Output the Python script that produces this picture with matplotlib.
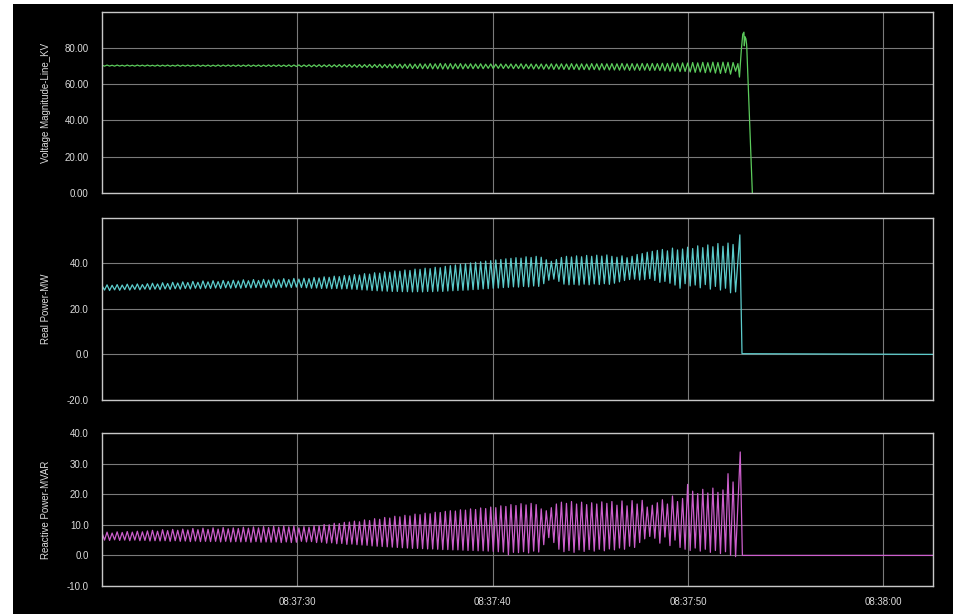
import numpy as np
import matplotlib
matplotlib.use("Agg")
import matplotlib.pyplot as plt
from matplotlib.patches import Rectangle
from matplotlib.ticker import FormatStrFormatter

plt.rcParams['font.family'] = ['Liberation Sans', 'DejaVu Sans']
plt.rcParams['axes.unicode_minus'] = False

# ---- data (seconds after 08:37:20) ----
period_s = 0.2585
x_tick_pos = [10, 20, 30, 40]
x_tick_labels = ["08:37:30", "08:37:40", "08:37:50", "08:38:00"]
x_end = 42.55

voltage_hi = [70.3, 70.4, 70.3, 70.4, 70.3, 70.4, 70.3, 70.4, 70.35, 70.4,
              70.3, 70.4, 70.35, 70.4, 70.3, 70.45, 70.35, 70.4, 70.3, 70.45, 70.35, 70.4, 70.35, 70.45, 70.4, 70.45,
              70.4, 70.45, 70.4, 70.5, 70.4, 70.45, 70.4, 70.5, 70.45, 70.5, 70.4, 70.5, 70.45,
              70.5, 70.45, 70.55, 70.5, 70.6, 70.5, 70.6, 70.55, 70.65, 70.6, 70.7,
              70.6, 70.7, 70.65, 70.75, 70.7, 70.8, 70.7, 70.85, 70.8, 70.9,
              70.9, 71.0, 70.9, 71.1, 71.0, 71.2, 71.1, 71.3, 71.2,
              71.2, 71.1, 71.2, 71.0, 71.1, 71.0, 71.1, 70.9, 71.0, 70.9,
              71.0, 70.9, 71.0, 70.9, 71.1, 70.9, 71.0, 70.9, 71.0, 70.9, 71.1, 71.0,
              71.1, 71.0, 71.2, 71.0, 71.1, 71.0, 71.2, 71.1, 71.2, 71.1,
              71.2, 71.1, 71.3, 71.1, 71.2, 71.1, 71.3, 71.2, 71.3, 71.2,
              71.4, 71.3, 71.5, 71.4, 71.6, 71.5,
              71.8, 71.6, 71.9, 71.7, 72.0, 71.8, 72.0, 71.9, 71.8]
voltage_lo = [69.8, 69.85, 69.8, 69.85, 69.8, 69.85, 69.8, 69.85, 69.8, 69.85,
              69.8, 69.75, 69.8, 69.75, 69.8, 69.75, 69.8, 69.75, 69.8, 69.7, 69.75, 69.7, 69.75, 69.7, 69.75, 69.7,
              69.7, 69.65, 69.7, 69.65, 69.7, 69.6, 69.65, 69.6, 69.65, 69.6, 69.6, 69.55, 69.6,
              69.5, 69.55, 69.45, 69.5, 69.4, 69.45, 69.35, 69.4, 69.3, 69.35, 69.2,
              69.2, 69.1, 69.15, 69.0, 69.05, 68.9, 68.95, 68.8, 68.85, 68.7,
              68.6, 68.5, 68.5, 68.4, 68.4, 68.3, 68.3, 68.2, 68.2,
              68.3, 68.4, 68.3, 68.5, 68.4, 68.5, 68.4, 68.6, 68.5, 68.6,
              68.5, 68.6, 68.4, 68.5, 68.3, 68.4, 68.2, 68.3, 68.1, 68.2, 68.0, 68.1,
              68.0, 67.9, 68.0, 67.8, 67.9, 67.8, 67.9, 67.7, 67.8, 67.7,
              67.7, 67.6, 67.7, 67.5, 67.6, 67.5, 67.6, 67.4, 67.5, 67.4,
              67.2, 67.0, 67.1, 66.8, 66.9, 66.6,
              66.4, 66.6, 66.2, 66.5, 66.0, 65.8, 66.2, 65.4, 67.0]
voltage_tail_t = [32.56, 32.64, 32.74, 32.81, 32.87, 32.89, 32.92, 32.97, 33.01, 33.30]
voltage_tail_v = [71.2, 63.8, 79.4, 87.4, 88.5, 81.0, 86.0, 84.9, 81.5, 0.0]

real_hi = [30.2, 30.5, 30.3, 30.6, 30.4, 30.8, 30.5, 30.9, 30.6, 31.0,
           31.2, 30.9, 31.4, 31.1, 31.6, 31.3, 31.8, 31.5, 32.0, 31.6, 32.2, 31.8, 32.3, 31.9, 32.4, 32.0,
           32.5, 32.2, 32.7, 32.3, 32.8, 32.4, 32.9, 32.6, 33.0, 32.7, 33.2, 32.8, 33.3,
           33.0, 33.4, 33.2, 33.7, 33.5, 34.0, 33.8, 34.3, 34.1, 34.6, 34.5,
           35.0, 34.8, 35.4, 35.2, 35.8, 35.6, 36.2, 36.0, 36.6, 36.5,
           37.0, 36.8, 37.4, 37.3, 37.8, 37.6, 38.2, 38.0, 38.6,
           38.9, 39.2, 39.5, 39.8, 40.1, 40.4, 40.6, 40.9, 41.1, 41.4,
           41.6, 41.9, 42.1, 42.4, 42.2, 42.8, 42.5, 43.0, 42.6, 41.5, 40.8, 41.6,
           42.5, 43.0, 42.7, 43.2, 42.8, 43.4, 43.0, 43.5, 43.1, 43.6,
           43.0, 42.6, 43.2, 42.4, 43.0, 43.8, 44.2, 44.8, 45.2, 45.6,
           46.0, 45.4, 46.6, 45.8, 46.2, 47.0,
           46.4, 47.6, 46.8, 48.0, 47.2, 48.6, 47.4, 48.8, 48.2]
real_lo = [28.2, 28.0, 28.3, 28.1, 28.4, 28.2, 28.5, 28.3, 28.6, 28.4,
           28.6, 28.4, 28.7, 28.5, 28.8, 28.6, 28.9, 28.7, 29.0, 28.8, 29.0, 28.9, 29.1, 28.9, 29.2, 29.0,
           29.2, 29.0, 29.3, 29.1, 29.3, 29.2, 29.4, 29.2, 29.4, 29.3, 29.5, 29.3, 29.5,
           29.3, 29.2, 29.0, 29.1, 28.9, 29.0, 28.8, 28.9, 28.7, 28.8, 28.6,
           28.5, 28.3, 28.2, 28.0, 27.9, 27.8, 27.7, 27.6, 27.6, 27.5,
           27.5, 27.4, 27.5, 27.4, 27.6, 27.5, 27.7, 27.6, 27.8,
           27.9, 28.0, 28.1, 28.2, 28.4, 28.5, 28.7, 28.8, 29.0, 29.1,
           29.3, 29.4, 29.6, 29.5, 29.8, 29.6, 30.0, 29.8, 31.0, 32.5, 33.0, 32.0,
           30.8, 30.5, 30.7, 30.4, 30.8, 30.5, 30.9, 30.6, 31.0, 30.7,
           31.2, 31.8, 32.4, 32.8, 33.0, 32.6, 32.8, 33.2, 32.4, 31.6,
           32.0, 31.2, 30.4, 29.0, 31.0, 30.0,
           30.4, 29.2, 30.6, 28.6, 29.8, 28.2, 29.0, 27.0, 27.4]
real_tail_t = [32.66, 32.77, x_end]
real_tail_v = [52.4, 0.3, 0.0]

reactive_hi = [7.4, 7.6, 7.3, 7.7, 7.5, 7.8, 7.6, 7.9, 7.7, 8.0,
               8.2, 7.9, 8.4, 8.1, 8.5, 8.2, 8.6, 8.3, 8.8, 8.4, 8.9, 8.5, 9.0, 8.6, 9.1, 8.7,
               9.0, 8.8, 9.2, 8.9, 9.3, 9.0, 9.4, 9.1, 9.5, 9.2, 9.6, 9.3, 9.6,
               9.0, 9.4, 9.2, 9.7, 9.6, 10.1, 10.0, 10.5, 10.4, 10.8, 10.9,
               11.2, 11.0, 11.6, 11.4, 12.0, 11.8, 12.4, 12.2, 12.8, 12.6,
               13.1, 12.9, 13.5, 13.3, 13.8, 13.6, 14.1, 14.0, 14.4,
               14.6, 14.5, 14.9, 14.8, 15.2, 15.0, 15.5, 15.3, 15.8, 15.6,
               16.2, 16.0, 16.6, 16.3, 16.9, 16.5, 17.0, 16.6, 15.2, 14.6, 15.6, 16.8,
               17.4, 17.0, 17.6, 16.8, 17.4, 16.6, 17.2, 16.8, 17.5, 17.0,
               17.6, 16.4, 17.8, 16.2, 17.9, 16.8, 18.0, 15.8, 16.4, 17.2,
               18.2, 16.8, 19.4, 17.6, 18.6, 23.2,
               21.0, 20.2, 21.6, 20.4, 22.0, 20.6, 21.4, 26.7, 24.0]
reactive_lo = [5.0, 4.9, 5.1, 4.9, 5.0, 4.8, 5.0, 4.8, 4.9, 4.7,
               4.8, 4.7, 4.8, 4.6, 4.8, 4.6, 4.7, 4.5, 4.7, 4.5, 4.6, 4.5, 4.6, 4.4, 4.6, 4.4,
               4.5, 4.4, 4.5, 4.3, 4.5, 4.3, 4.4, 4.3, 4.4, 4.2, 4.4, 4.2, 4.3,
               4.6, 4.4, 4.5, 4.2, 4.3, 4.0, 4.1, 3.8, 3.9, 3.6, 3.7,
               3.5, 3.4, 3.3, 3.1, 3.0, 2.9, 2.8, 2.7, 2.6, 2.5,
               2.4, 2.3, 2.3, 2.2, 2.1, 2.1, 2.0, 1.9, 1.9,
               1.8, 1.8, 1.7, 1.6, 1.6, 1.5, 1.5, 1.4, 1.3, 1.2,
               1.1, 0.2, 1.0, 0.9, 1.2, 0.8, 1.4, 1.1, 3.5, 5.8, 4.2, 2.0,
               1.2, 1.6, 1.0, 1.8, 1.3, 1.9, 1.4, 2.0, 1.5, 2.1,
               1.8, 2.4, 2.0, 3.0, 2.6, 4.2, 5.4, 6.2, 5.6, 4.0,
               6.0, 3.2, 5.0, 2.6, 2.0, 1.6,
               2.4, 1.4, 2.0, 1.0, 1.6, 0.6, 1.2, 0.0, -0.4]
reactive_tail_t = [32.68, 32.79, x_end]
reactive_tail_v = [33.8, 0.0, 0.0]


def build(hi, lo, tail_t, tail_v):
    n = len(hi)
    t = np.empty(2 * n)
    v = np.empty(2 * n)
    tp = np.arange(n) * period_s
    t[0::2] = tp
    t[1::2] = tp + period_s / 2
    v[0::2] = hi
    v[1::2] = lo
    return np.concatenate([t, tail_t]), np.concatenate([v, tail_v])


W, H = 955, 614
fig = plt.figure(figsize=(W / 100, H / 100), dpi=100, facecolor='white')
fig.patches.append(Rectangle((13 / W, 0), (953 - 13) / W, (H - 4) / H,
                             transform=fig.transFigure, facecolor='black',
                             edgecolor='none', zorder=-10))

left = 102 / W
width = (933 - 102) / W
panels = [
    dict(top=12, bottom=193, ylim=(0, 99.6), yticks=[0, 20, 40, 60, 80], fmt='%.2f',
         label='Voltage Magnitude-Line_KV', color='#5ccc5c',
         data=build(voltage_hi, voltage_lo, voltage_tail_t, voltage_tail_v)),
    dict(top=218, bottom=400, ylim=(-20, 59.8), yticks=[-20, 0, 20, 40], fmt='%.1f',
         label='Real Power-MW', color='#5ccccc',
         data=build(real_hi, real_lo, real_tail_t, real_tail_v)),
    dict(top=433, bottom=586, ylim=(-10, 40), yticks=[-10, 0, 10, 20, 30, 40], fmt='%.1f',
         label='Reactive Power-MVAR', color='#cc5fcc',
         data=build(reactive_hi, reactive_lo, reactive_tail_t, reactive_tail_v)),
]

text_color = '#dcdcdc'
for i, p in enumerate(panels):
    ax = fig.add_axes([left, 1 - p['bottom'] / H, width, (p['bottom'] - p['top']) / H])
    ax.set_facecolor('black')
    t, v = p['data']
    ax.plot(t, v, color=p['color'], lw=0.9, zorder=3)
    ax.set_xlim(0, x_end)
    ax.set_ylim(*p['ylim'])
    ax.set_yticks(p['yticks'])
    ax.yaxis.set_major_formatter(FormatStrFormatter(p['fmt']))
    ax.set_xticks(x_tick_pos)
    if i == 2:
        ax.set_xticklabels(x_tick_labels)
    else:
        ax.set_xticklabels([])
    ax.grid(True, color='#7a7a7a', lw=0.8, zorder=1)
    ax.set_axisbelow(True)
    for s in ax.spines.values():
        s.set_color('#c8c8c8')
        s.set_linewidth(1.0)
        s.set_zorder(4)
    ax.tick_params(axis='both', length=0, colors=text_color, labelsize=7)
    ax.tick_params(axis='y', pad=9.5)
    ax.tick_params(axis='x', pad=8)
    ax.set_ylabel(p['label'], color=text_color, fontsize=7)
    ax.yaxis.set_label_coords(-51 / 831, 0.5)

fig.savefig('out.png', dpi=100, facecolor=fig.get_facecolor())
